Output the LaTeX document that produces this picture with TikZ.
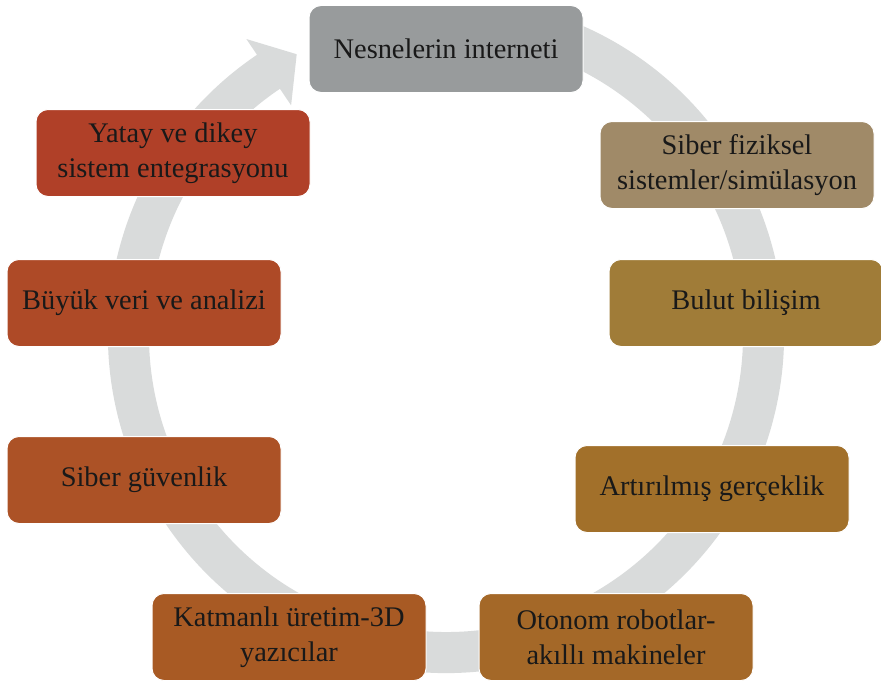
\documentclass[tikz,border=0pt]{standalone}
\usepackage{fontspec}
\setmainfont{Liberation Serif}
\newfontfamily\cycfont{Liberation Serif}
\usepackage{xcolor}
\usepackage{tikz}
\usetikzlibrary{positioning}
\definecolor{CycRing}{HTML}{D9DBDB}
\definecolor{CycGray}{HTML}{989B9C}
\definecolor{CycKhaki}{HTML}{A08A68}
\definecolor{CycOchre}{HTML}{A07C38}
\definecolor{CycAmber}{HTML}{A2702A}
\definecolor{CycCopper}{HTML}{A46828}
\definecolor{CycRust}{HTML}{A85A24}
\definecolor{CycBrick}{HTML}{AC5226}
\definecolor{CycRed}{HTML}{AE4A27}
\definecolor{CycCrimson}{HTML}{B04028}

\begin{document}
\begin{tikzpicture}[
  x=0.5pt, y=0.5pt,
  stage/.style={draw=white, line width=0.5pt, rounded corners=6pt, minimum width=137pt, minimum height=43.5pt, inner sep=0pt, align=center, text=black!90, font=\cycfont\fontsize{14.2}{17.5}\selectfont},
  ring/.style={fill=CycRing}
]
  \useasboundingbox (0,0) rectangle (881,682);
  \coordinate (hub) at (446,347);

  % cycle arrow behind the boxes
  \fill[ring, shift={(hub)}] (72:338) arc[start angle=72, end angle=-236, radius=338]
    -- (-236:357) -- (-242:318) -- (-236:277) -- (-236:297)
    arc[start angle=-236, end angle=72, radius=297] -- cycle;

  \node[stage, fill=CycGray] (iot) at (446,633) {Nesnelerin interneti};
  \node[stage, fill=CycKhaki] (cps) at (737,517) {Siber fiziksel\\sistemler/simülasyon};
  \node[stage, fill=CycOchre] (cloud) at (746,379) {Bulut bilişim};
  \node[stage, fill=CycAmber] (ar) at (712,193) {Artırılmış gerçeklik};
  \node[stage, fill=CycCopper] (robots) at (616,45) {Otonom robotlar-\\akıllı makineler};
  \node[stage, fill=CycRust] (additive) at (289,45) {Katmanlı üretim-3D\\yazıcılar};
  \node[stage, fill=CycBrick] (security) at (144,202) {Siber güvenlik};
  \node[stage, fill=CycRed] (bigdata) at (144,379) {Büyük veri ve analizi};
  \node[stage, fill=CycCrimson] (integration) at (173,529) {Yatay ve dikey\\sistem entegrasyonu};
\end{tikzpicture}
\end{document}
